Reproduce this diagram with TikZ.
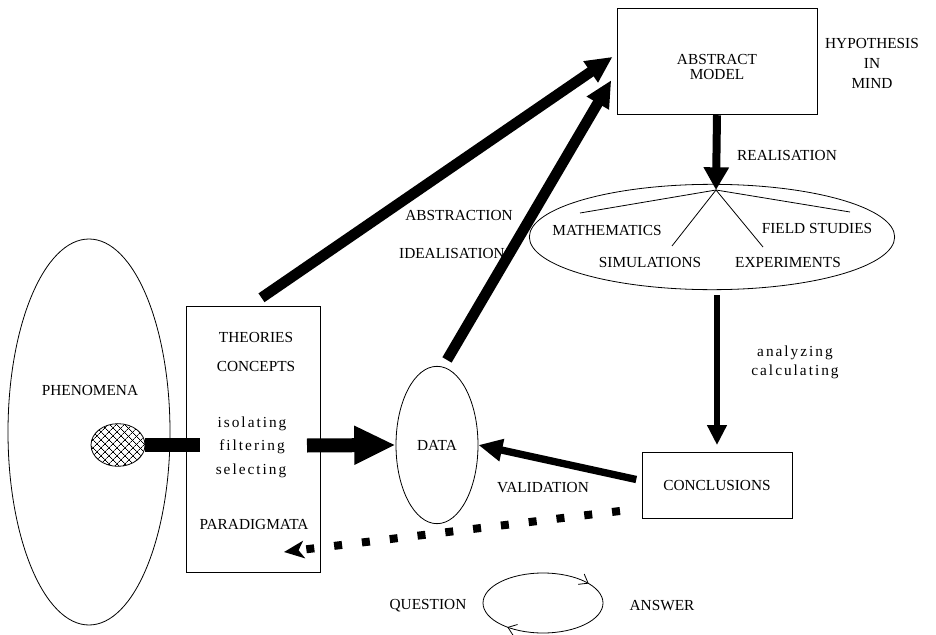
\documentclass[tikz,border=0pt]{standalone}
\usepackage{fontspec}
\setmainfont{Liberation Serif}
\newfontfamily\spaced{Liberation Serif}[LetterSpace=13]
\usetikzlibrary{arrows.meta,shapes.geometric,patterns.meta,decorations.markings}

\tikzset{
  box/.style={draw,line width=0.6pt,inner sep=0pt},
  oval/.style={draw,ellipse,line width=0.6pt,inner sep=0pt},
  low/.style={font=\spaced\fontsize{11.5}{14}\selectfont},
  fat/.style={line width=#1,line cap=butt},
}

\begin{document}
\begin{tikzpicture}[x=0.75pt,y=-0.75pt,font=\fontsize{11.5}{13}\selectfont]
  \useasboundingbox (0,0) rectangle (936,635);

  % left side
  \node[oval,minimum width=121.5pt,minimum height=289.5pt] (phen) at (89,432) {};
  \node (phentxt) at (90,390) {PHENOMENA};
  \node[oval,minimum width=40.5pt,minimum height=32pt,
        pattern={Lines[angle=45,distance=4pt,line width=0.5pt]},
        postaction={pattern={Lines[angle=-45,distance=4pt,line width=0.5pt]}}] (spot) at (118,445) {};

  \node[box,minimum width=100pt,minimum height=200pt] (theo) at (253.5,439.5) {};
  \node (theories) at (256,337) {THEORIES};
  \node (concepts) at (256,366) {CONCEPTS};
  \node[low] (isol) at (252,424) {isolating};
  \node[low] (filt) at (252,447) {filtering};
  \node[low] (sel) at (251,471) {selecting};
  \node (para) at (254,524) {PARADIGMATA};

  \node[oval,minimum width=61.5pt,minimum height=118pt] (data) at (437,445) {DATA};

  % top right
  \node[box,minimum width=150pt,minimum height=80pt] (model) at (717,61.5) {};
  \node[align=center,font=\fontsize{11.5}{11}\selectfont] (modeltxt) at (717,67) {ABSTRACT\\MODEL};
  \node[align=center,font=\fontsize{11.5}{15}\selectfont] (hyp) at (872,63) {HYPOTHESIS\\IN\\MIND};

  \node[oval,minimum width=274pt,minimum height=79pt] (meth) at (712,237) {};
  \coordinate (hub) at (716,190);
  \foreach \p in {(580,213),(672,246),(763,247),(850,212)}
    \draw[line width=0.6pt] (hub) -- \p;
  \node (math) at (607,230) {MATHEMATICS};
  \node (field) at (817,228) {FIELD STUDIES};
  \node (simu) at (650,262) {SIMULATIONS};
  \node (expe) at (788,262) {EXPERIMENTS};

  \node[box,minimum width=112.5pt,minimum height=50pt] (concl) at (717,485.5) {CONCLUSIONS};

  % labels
  \node (abstr) at (459,215) {ABSTRACTION};
  \node (ideal) at (452,253) {IDEALISATION};
  \node (real) at (787,155) {REALISATION};
  \node[low,align=center] (anal) at (795,362) {analyzing\\calculating};
  \node (valid) at (543,488) {VALIDATION};

  % thick arrows
  \coordinate (bar) at (200,445);
  \coordinate (out) at (307,445.5);
  \draw[fat=11pt] (spot.east) -- (bar);
  \draw[fat=10.5pt,-{Triangle[length=31pt,width=27pt]}] (out) -- (data.west);
  \draw[fat=8pt,-{Triangle[length=20pt,width=18pt]}] ([xshift=6pt,yshift=6pt]theo.north) -- ([xshift=-3pt,yshift=3.5pt]model.west);
  \draw[fat=8pt,-{Triangle[length=20pt,width=18pt]}] ([xshift=7.5pt,yshift=4.5pt]data.north) -- ([xshift=-4pt,yshift=-14pt]model.west);
  \draw[fat=6pt,-{Triangle[length=17pt,width=18pt]}] (model.south) -- (hub);
  \draw[fat=5pt,shorten <=4pt,-{Triangle[length=15pt,width=14pt]}] (concl.north |- meth.south) -- ([yshift=5pt]concl.north);
  \draw[fat=5.5pt,-{Triangle[length=18pt,width=16pt]}] ([xshift=-4pt,yshift=4.5pt]concl.west) -- (data.east);

  % feedback
  \coordinate (dotstart) at (620,511);
  \coordinate (dotend) at (284,552);
  \draw[fat=6pt,dash pattern=on 6pt off 15pt,-{Stealth[length=15pt,width=13pt,inset=4pt]}] (dotstart) -- (dotend);

  % question / answer loop
  \draw[line width=0.6pt,postaction={decorate},decoration={markings,
      mark=at position 0.375 with {\arrow{Straight Barb[length=6pt,width=9pt]}},
      mark=at position 0.913 with {\arrow{Straight Barb[length=6pt,width=9pt]}}}]
    (543,603) ellipse [x radius=60,y radius=30];
  \node (quest) at (428,606) {QUESTION};
  \node (answ) at (662,606) {ANSWER};
\end{tikzpicture}
\end{document}
